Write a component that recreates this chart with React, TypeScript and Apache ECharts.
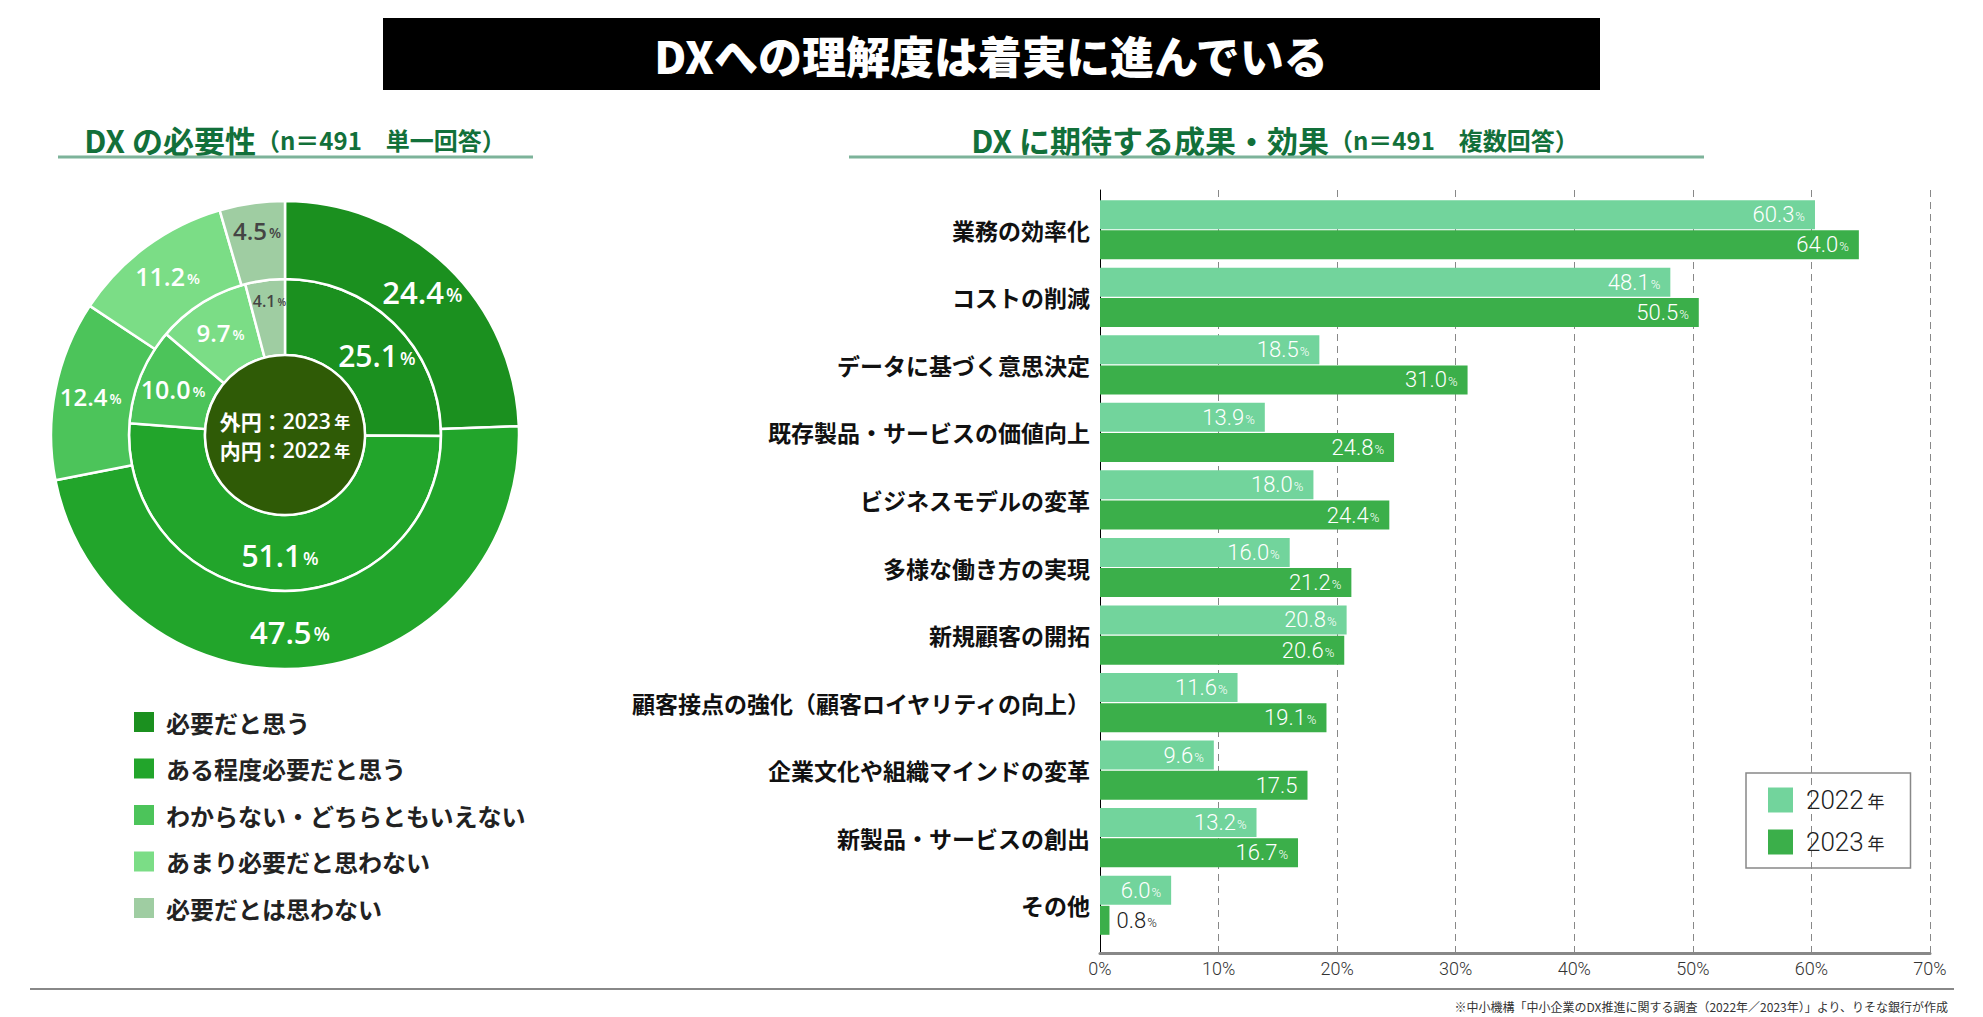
import React, { useEffect, useRef } from "react";
import * as echarts from "echarts";

const pieCategories = [
  "必要だと思う",
  "ある程度必要だと思う",
  "わからない・どちらともいえない",
  "あまり必要だと思わない",
  "必要だとは思わない",
];
const pieColors = ["#1B901F", "#22A52B", "#4CC45A", "#7BDD86", "#9FCDA2"];
const outer2023 = [24.4, 47.5, 12.4, 11.2, 4.5];
const inner2022 = [25.1, 51.1, 10.0, 9.7, 4.1];

const barCategories = [
  "業務の効率化",
  "コストの削減",
  "データに基づく意思決定",
  "既存製品・サービスの価値向上",
  "ビジネスモデルの変革",
  "多様な働き方の実現",
  "新規顧客の開拓",
  "顧客接点の強化（顧客ロイヤリティの向上）",
  "企業文化や組織マインドの変革",
  "新製品・サービスの創出",
  "その他",
];
const bar2022 = [60.3, 48.1, 18.5, 13.9, 18.0, 16.0, 20.8, 11.6, 9.6, 13.2, 6.0];
const bar2023 = [64.0, 50.5, 31.0, 24.8, 24.4, 21.2, 20.6, 19.1, 17.5, 16.7, 0.8];
const barSeriesNames = ["2022 年", "2023 年"];
const xMin = 0;
const xMax = 70;
const xInterval = 10;

const JP = "'Noto Sans CJK JP', 'Noto Sans', sans-serif";
const NUM = "'Open Sans', 'Noto Sans', sans-serif";
const LIGHT = "Roboto, 'Noto Sans', sans-serif";

function pieData(values: number[], sizes: number[], darkLast: boolean) {
  return values.map((v, i) => {
    const dark = darkLast && i === values.length - 1;
    const c = dark ? "#444" : "#fff";
    return {
      name: pieCategories[i],
      value: v,
      itemStyle: { color: pieColors[i] },
      label: {
        rich: {
          n: { fontSize: sizes[i], fontWeight: 600, color: c, fontFamily: NUM },
          p: { fontSize: Math.round(sizes[i] * 0.6), fontWeight: 600, color: c, fontFamily: NUM, padding: [Math.round(sizes[i] * 0.15), 0, 0, 2] },
        },
      },
    };
  });
}

const pctLabel = (v: number) => `{n|${v.toFixed(1)}}{p|%}`;

export default function App() {
  const ref = useRef<HTMLDivElement>(null);
  useEffect(() => {
    if (!ref.current) return;
    const chart = echarts.init(ref.current, null, { renderer: "svg" });
    const barItems2023 = bar2023.map((v) => {
      if (v === 17.5) return { value: v, label: { formatter: `{n|${v.toFixed(1)}}` } };
      if (v < 3)
        return {
          value: v,
          label: {
            position: "right",
            distance: 7,
            rich: {
              n: { color: "#222", fontSize: 22, fontFamily: LIGHT, fontWeight: 300 },
              p: { color: "#222", fontSize: 13, fontFamily: LIGHT, fontWeight: 300, padding: [4, 0, 0, 1] },
            },
          },
        };
      return v;
    });
    const barLabel = {
      show: true,
      position: "insideRight",
      distance: 10,
      formatter: (p: any) => pctLabel(p.value),
      rich: {
        n: { color: "#fff", fontSize: 22, fontFamily: LIGHT, fontWeight: 300 },
        p: { color: "#fff", fontSize: 13, fontFamily: LIGHT, fontWeight: 300, padding: [4, 0, 0, 1] },
      },
    };
    const option: any = {
      animation: false,
      backgroundColor: "#fff",
      textStyle: { fontFamily: JP },
      legend: [
        {
          data: pieCategories,
          orient: "vertical",
          left: 132,
          top: 710,
          itemWidth: 22,
          itemHeight: 22,
          itemGap: 22.5,
          icon: "rect",
          selectedMode: false,
          padding: 0,
          textStyle: { fontSize: 24, fontWeight: "bold", color: "#222", fontFamily: JP, padding: [0, 0, 0, 6] },
        },
        {
          data: barSeriesNames,
          orient: "vertical",
          left: 1746,
          top: 773,
          itemWidth: 25,
          itemHeight: 25,
          itemGap: 16,
          icon: "rect",
          selectedMode: false,
          padding: [14, 26, 13, 22],
          borderColor: "#888",
          borderWidth: 1.5,
          formatter: (name: string) => `{a|${name.slice(0, 4)}}{b| 年}`,
          textStyle: {
            padding: [0, 0, 0, 8],
            rich: {
              a: { fontSize: 26, fontFamily: LIGHT, fontWeight: 300, color: "#222" },
              b: { fontSize: 17, fontFamily: JP, color: "#222" },
            },
          },
        },
      ],
      grid: [
        { left: 1100, top: 196, width: 830, height: 743 },
        { left: 1100, top: 190, width: 830, height: 763 },
      ],
      xAxis: [
        { type: "value", gridIndex: 0, min: xMin, max: xMax, interval: xInterval, show: false },
        {
          type: "value",
          gridIndex: 1,
          min: xMin,
          max: xMax,
          interval: xInterval,
          axisLine: { show: true, lineStyle: { color: "#888", width: 3 } },
          axisTick: { show: false },
          axisLabel: { formatter: "{value}%", fontSize: 18, color: "#333", fontFamily: LIGHT, fontWeight: 300, margin: 6 },
          splitLine: { show: true, lineStyle: { color: "#888", width: 1, type: [7, 5] } },
        },
      ],
      yAxis: [
        {
          type: "category",
          gridIndex: 0,
          data: barCategories,
          inverse: true,
          axisLine: { show: false },
          axisTick: { show: false },
          axisLabel: { fontSize: 23, fontWeight: "bold", color: "#111", fontFamily: JP, margin: 10 },
        },
        {
          type: "value",
          gridIndex: 1,
          min: 0,
          max: 1,
          axisLine: { show: true, onZero: false, lineStyle: { color: "#000", width: 1 } },
          axisTick: { show: false },
          axisLabel: { show: false },
          splitLine: { show: false },
        },
      ],
      series: [
        {
          type: "pie",
          name: "inner",
          center: [285, 435],
          radius: [80, 156],
          startAngle: 90,
          clockwise: true,
          silent: true,
          itemStyle: { borderColor: "#fff", borderWidth: 2.5 },
          label: { show: true, position: "inside", formatter: (p: any) => pctLabel(p.value) },
          labelLine: { show: false },
          labelLayout: (p: any) => (p.dataIndex === 4 ? { dy: -14 } : p.dataIndex === 0 ? { dx: 6, dy: 6 } : {}),
          data: pieData(inner2022, [30, 30, 25, 24, 16], true),
        },
        {
          type: "pie",
          name: "outer",
          center: [285, 435],
          radius: [156, 234],
          startAngle: 90,
          clockwise: true,
          silent: true,
          itemStyle: { borderColor: "#fff", borderWidth: 2.5 },
          label: { show: true, position: "inside", formatter: (p: any) => pctLabel(p.value) },
          labelLine: { show: false },
          labelLayout: (p: any) => (p.dataIndex === 1 ? { dx: -18 } : p.dataIndex === 4 ? { dy: -8 } : {}),
          data: pieData(outer2023, [31, 31, 24, 25, 24], true),
        },
        {
          type: "pie",
          name: "center",
          center: [285, 435],
          radius: [0, 80],
          silent: true,
          itemStyle: { borderColor: "#fff", borderWidth: 2.5, color: "#2F5B06" },
          label: {
            show: true,
            position: "center",
            formatter: "{a|外円：}{b|2023}{c| 年}\n{a|内円：}{b|2022}{c| 年}",
            rich: {
              a: { fontSize: 21, fontWeight: "bold", color: "#fff", fontFamily: JP, lineHeight: 29 },
              b: { fontSize: 21, fontWeight: 600, color: "#fff", fontFamily: NUM, lineHeight: 29 },
              c: { fontSize: 16, fontWeight: "bold", color: "#fff", fontFamily: JP, lineHeight: 29 },
            },
          },
          labelLine: { show: false },
          data: [{ name: "中心", value: 1 }],
        },
        {
          type: "bar",
          name: barSeriesNames[0],
          xAxisIndex: 0,
          yAxisIndex: 0,
          barWidth: 29,
          barGap: "4%",
          itemStyle: { color: "#72D49C" },
          label: barLabel,
          data: bar2022,
        },
        {
          type: "bar",
          name: barSeriesNames[1],
          xAxisIndex: 0,
          yAxisIndex: 0,
          barWidth: 29,
          barGap: "4%",
          itemStyle: { color: "#3BAF4A" },
          label: barLabel,
          data: barItems2023,
        },
      ],
      graphic: [
        { type: "rect", shape: { x: 383, y: 18, width: 1217, height: 72 }, style: { fill: "#000" }, silent: true },
        {
          type: "text",
          x: 991,
          y: 55,
          style: { text: "DXへの理解度は着実に進んでいる", fill: "#fff", fontSize: 44, fontWeight: 900, fontFamily: JP, align: "center", verticalAlign: "middle" },
        },
        {
          type: "text",
          x: 295,
          y: 139,
          style: {
            text: "{a|DX の必要性}{b|（n＝491　単一回答）}",
            align: "center",
            verticalAlign: "middle",
            rich: {
              a: { fontSize: 31, fontWeight: "bold", fill: "#12703A", fontFamily: JP },
              b: { fontSize: 24, fontWeight: "bold", fill: "#12703A", fontFamily: JP },
            },
          },
        },
        { type: "line", shape: { x1: 58, y1: 157, x2: 533, y2: 157 }, style: { stroke: "#7DB39A", lineWidth: 3 } },
        {
          type: "text",
          x: 1275,
          y: 139,
          style: {
            text: "{a|DX に期待する成果・効果}{b|（n＝491　複数回答）}",
            align: "center",
            verticalAlign: "middle",
            rich: {
              a: { fontSize: 31, fontWeight: "bold", fill: "#12703A", fontFamily: JP },
              b: { fontSize: 24, fontWeight: "bold", fill: "#12703A", fontFamily: JP },
            },
          },
        },
        { type: "line", shape: { x1: 849, y1: 157, x2: 1704, y2: 157 }, style: { stroke: "#7DB39A", lineWidth: 3 } },
        { type: "line", shape: { x1: 30, y1: 989, x2: 1954, y2: 989 }, style: { stroke: "#888", lineWidth: 2 } },
        {
          type: "text",
          x: 1948,
          y: 1006,
          style: {
            text: "※中小機構「中小企業のDX推進に関する調査（2022年／2023年）」より、りそな銀行が作成",
            fill: "#333",
            fontSize: 12,
            fontFamily: JP,
            align: "right",
            verticalAlign: "middle",
          },
        },
      ],
    };
    chart.setOption(option);
    return () => chart.dispose();
  }, []);
  return <div ref={ref} style={{ position: "fixed", left: 0, top: 0, width: 1983, height: 1017, background: "#fff" }} />;
}
